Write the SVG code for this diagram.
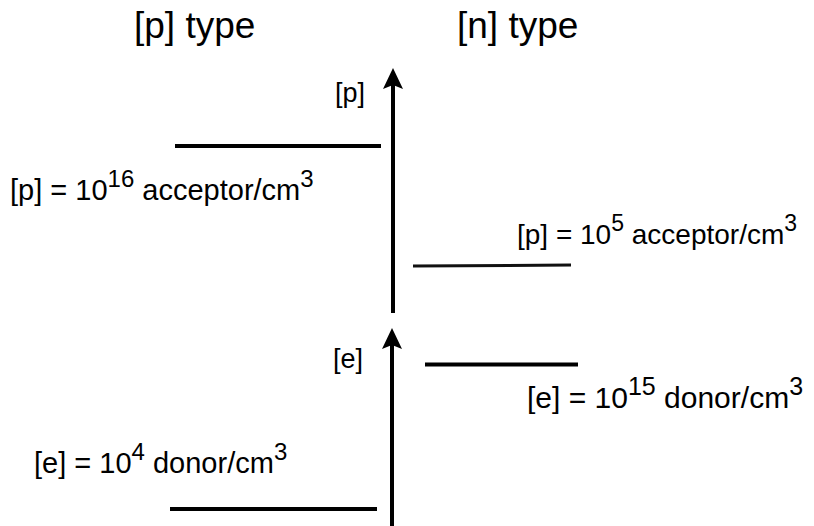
<svg xmlns="http://www.w3.org/2000/svg" width="814" height="526" viewBox="0 0 814 526">
<style>
text{font-family:"Liberation Sans",Arial,sans-serif;fill:#000}
.t{font-size:37px}
.l{font-size:29px}
.ax{font-size:27px}
.s{font-size:24px}
.lvl{stroke:#000;stroke-width:4;fill:none}
.ar{stroke:#000;stroke-width:4;fill:none}
</style>
<rect width="814" height="526" fill="#fff"/>
<g id="titles">
<text class="t" x="134" y="38">[p] type</text>
<text class="t" x="457" y="38">[n] type</text>
</g>
<g id="connectors">
<line class="ar" x1="393" y1="313" x2="393" y2="84"/>
<path d="M393,68 L403,89 L393,85 L383,89 Z" fill="#000"/>
<line class="ar" x1="392" y1="526" x2="392" y2="344"/>
<path d="M392,328 L402,349 L392,345 L382,349 Z" fill="#000"/>
</g>
<g id="axis-p"><text class="ax" x="335" y="102">[p]</text></g>
<g id="axis-e"><text class="ax" x="333" y="368">[e]</text></g>
<g id="p-acceptor-high">
<line class="lvl" x1="175" y1="146" x2="381" y2="146"/>
<text class="l" x="10" y="200">[p] = 10<tspan class="s" dy="-13">16</tspan><tspan dy="13"> acceptor/cm</tspan><tspan class="s" dy="-13">3</tspan></text>
</g>
<g id="p-acceptor-low">
<line x1="413" y1="266" x2="571" y2="265" stroke="#111" stroke-width="3"/>
<text class="l" x="517" y="244" style="font-size:28px">[p] = 10<tspan class="s" dy="-13" style="font-size:23px">5</tspan><tspan dy="13"> acceptor/cm</tspan><tspan class="s" dy="-13" style="font-size:23px">3</tspan></text>
</g>
<g id="e-donor-high">
<line class="lvl" x1="425" y1="364.5" x2="578" y2="364.5"/>
<text class="l" x="527" y="408" style="font-size:30px">[e] = 10<tspan class="s" dy="-13" style="font-size:25px">15</tspan><tspan dy="13"> donor/cm</tspan><tspan class="s" dy="-13" style="font-size:25px">3</tspan></text>
</g>
<g id="e-donor-low">
<line class="lvl" x1="170" y1="509" x2="377" y2="509"/>
<text class="l" x="34" y="473">[e] = 10<tspan class="s" dy="-13">4</tspan><tspan dy="13"> donor/cm</tspan><tspan class="s" dy="-13">3</tspan></text>
</g>
</svg>
